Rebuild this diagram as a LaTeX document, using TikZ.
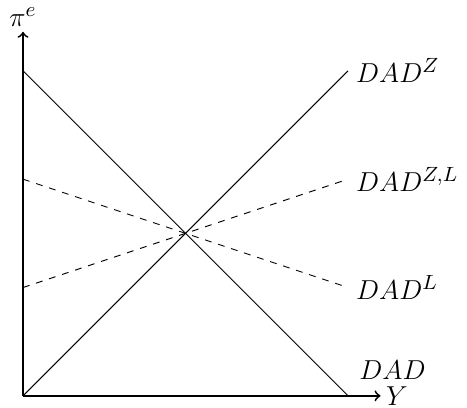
\documentclass[tikz,border=0pt]{standalone}
\begin{document}
\begin{tikzpicture}[
  every node/.style={font=\fontsize{12.5}{15}\selectfont},
  axis/.style={->, line width=0.8pt},
  curve/.style={line width=0.4pt},
  dcurve/.style={line width=0.4pt, dashed}]
\useasboundingbox (-0.354,-0.185) rectangle (6.83,6.09);
\coordinate (O) at (0,0);
\coordinate (xe) at (5.5,0);
\coordinate (ye) at (0,5.6);
\coordinate (a1) at (0,5);
\coordinate (a2) at (5,0);
\coordinate (b2) at (5,5);
\coordinate (c1) at (0,10/3);
\coordinate (c2) at (5,5/3);
\coordinate (d1) at (0,5/3);
\coordinate (d2) at (5,10/3);
\draw[axis] (O) -- (xe) node[right, inner sep=2pt] (ylab) {$Y$};
\draw[axis] (O) -- (ye) node[above, inner sep=2pt] (pilab) {$\pi^e$};
\draw[curve] (a1) -- (a2) node[anchor=west, yshift=0.4cm, xshift=0.05cm] (lDAD) {$DAD$};
\draw[curve] (O) -- (b2) node[right] (lZ) {$DAD^Z$};
\draw[dcurve] (c1) -- (c2) node[right] (lL) {$DAD^L$};
\draw[dcurve] (d1) -- (d2) node[right] (lZL) {$DAD^{Z,L}$};
\end{tikzpicture}
\end{document}
